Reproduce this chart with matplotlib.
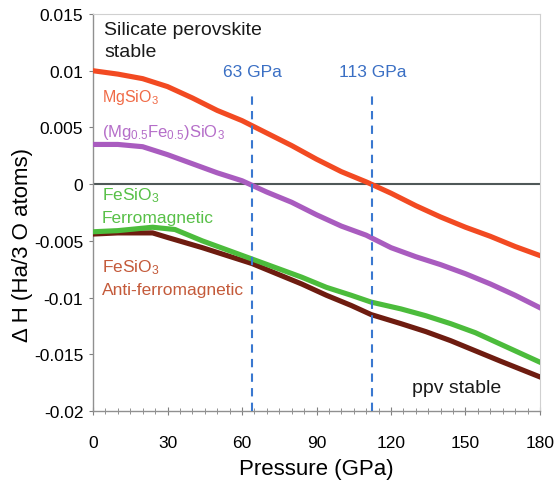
import matplotlib
matplotlib.use("Agg")
import matplotlib.pyplot as plt
from matplotlib.ticker import MultipleLocator

plt.rcParams['font.family'] = ['Liberation Sans', 'DejaVu Sans']
plt.rcParams['mathtext.default'] = 'regular'

# Data
p_mg = [0, 10, 20, 30, 40, 50, 60, 70, 80, 90, 100, 110, 120, 130, 140, 150, 160, 170, 180]
h_mg = [0.0100, 0.0097, 0.0093, 0.0086, 0.0076, 0.0065, 0.0056, 0.0045, 0.0034, 0.0022,
        0.0011, 0.0002, -0.0008, -0.0019, -0.0029, -0.0038, -0.0046, -0.0055, -0.0063]

p_mgfe = [0, 10, 20, 30, 40, 50, 60, 70, 80, 90, 100, 110, 120, 130, 140, 150, 160, 170, 180]
h_mgfe = [0.0035, 0.0035, 0.0033, 0.0026, 0.0018, 0.0010, 0.0003, -0.0007, -0.0016, -0.0027,
          -0.0037, -0.0045, -0.0056, -0.0064, -0.0071, -0.0079, -0.0088, -0.0098, -0.0109]

p_fm = [0, 10, 24, 33, 44, 54, 64, 74, 84, 94, 104, 112, 124, 134, 144, 154, 164, 172, 180]
h_fm = [-0.0042, -0.0041, -0.0038, -0.0040, -0.0050, -0.0058, -0.0066, -0.0074, -0.0082, -0.0091,
        -0.0098, -0.0104, -0.0110, -0.0116, -0.0123, -0.0131, -0.0141, -0.0149, -0.0157]

p_afm = [0, 10, 24, 30, 44, 54, 64, 74, 84, 94, 104, 112, 124, 134, 144, 154, 164, 172, 180]
h_afm = [-0.0044, -0.0043, -0.0043, -0.0047, -0.0056, -0.0063, -0.0070, -0.0079, -0.0088, -0.0098,
         -0.0107, -0.0115, -0.0123, -0.0130, -0.0138, -0.0147, -0.0156, -0.0163, -0.0170]

transitions = [64, 112.5]
transition_labels = ['63 GPa', '113 GPa']

xticks = [0, 30, 60, 90, 120, 150, 180]
yticks = [0.015, 0.01, 0.005, 0, -0.005, -0.01, -0.015, -0.02]
ytick_labels = ['0.015', '0.01', '0.005', '0', '-0.005', '-0.01', '-0.015', '-0.02']

fig = plt.figure(figsize=(5.59, 4.81), dpi=100)
ax = fig.add_axes([0.1664, 0.1435, 0.7996, 0.8253])

ax.axhline(0, color='#4f5858', lw=1.5, zorder=2)

ax.plot(p_afm, h_afm, color='#6e1c10', lw=3.7, zorder=3)
ax.plot(p_fm, h_fm, color='#4cbc3c', lw=3.7, zorder=4)
ax.plot(p_mgfe, h_mgfe, color='#a95cbf', lw=3.7, zorder=3)
ax.plot(p_mg, h_mg, color='#f24a22', lw=3.7, zorder=3)

for xv, lab in zip(transitions, transition_labels):
    ax.plot([xv, xv], [-0.02, 0.0081], color='#3a78d0', lw=1.5, ls=(0, (4, 3)), zorder=5)
    ax.text(xv, 0.0099, lab, color='#3a6fc4', fontsize=12.5, ha='center', va='center')

ax.text(4.5, 0.01366, 'Silicate perovskite', fontsize=14, va='center', ha='left', color='#1a1a1a')
ax.text(4.5, 0.01172, 'stable', fontsize=14, va='center', ha='left', color='#1a1a1a')
ax.text(3.5, 0.00775, r'MgSiO$_3$', fontsize=11.5, color='#f06a46', va='center')
ax.text(3.5, 0.00467, r'(Mg$_{0.5}$Fe$_{0.5}$)SiO$_3$', fontsize=12, color='#b56ec9', va='center')
ax.text(3.5, -0.00097, r'FeSiO$_3$', fontsize=12.5, color='#58c048', va='center')
ax.text(3.5, -0.00291, 'Ferromagnetic', fontsize=12.5, color='#58c048', va='center')
ax.text(3.5, -0.00731, r'FeSiO$_3$', fontsize=12.5, color='#c45a3a', va='center')
ax.text(3.5, -0.00925, 'Anti-ferromagnetic', fontsize=12.5, color='#c45a3a', va='center')
ax.text(146.6, -0.01789, 'ppv stable', fontsize=14, color='#1a1a1a', ha='center', va='center')

ax.set_xlim(0, 180)
ax.set_ylim(-0.02, 0.015)
ax.set_xticks(xticks)
ax.xaxis.set_minor_locator(MultipleLocator(5))
ax.set_yticks(yticks)
ax.set_yticklabels(ytick_labels)
ax.tick_params(axis='x', which='major', direction='inout', length=6, width=0.8,
               color='#808080', labelsize=12.5, pad=14)
ax.tick_params(axis='x', which='minor', direction='inout', length=4, width=0.6, color='#808080')
ax.tick_params(axis='y', which='major', direction='out', length=3, width=0.8,
               color='#808080', labelsize=12.5, pad=4)

for s in ['top', 'right']:
    ax.spines[s].set_color('#d0d0d0')
    ax.spines[s].set_linewidth(0.8)
for s in ['left', 'bottom']:
    ax.spines[s].set_color('#909090')
    ax.spines[s].set_linewidth(1.0)

ax.set_xlabel('Pressure (GPa)', fontsize=16, labelpad=6)
ax.set_ylabel('Δ H (Ha/3 O atoms)', fontsize=16)
ax.yaxis.set_label_coords(-0.134, 0.42)

fig.savefig('out.png', dpi=100)
